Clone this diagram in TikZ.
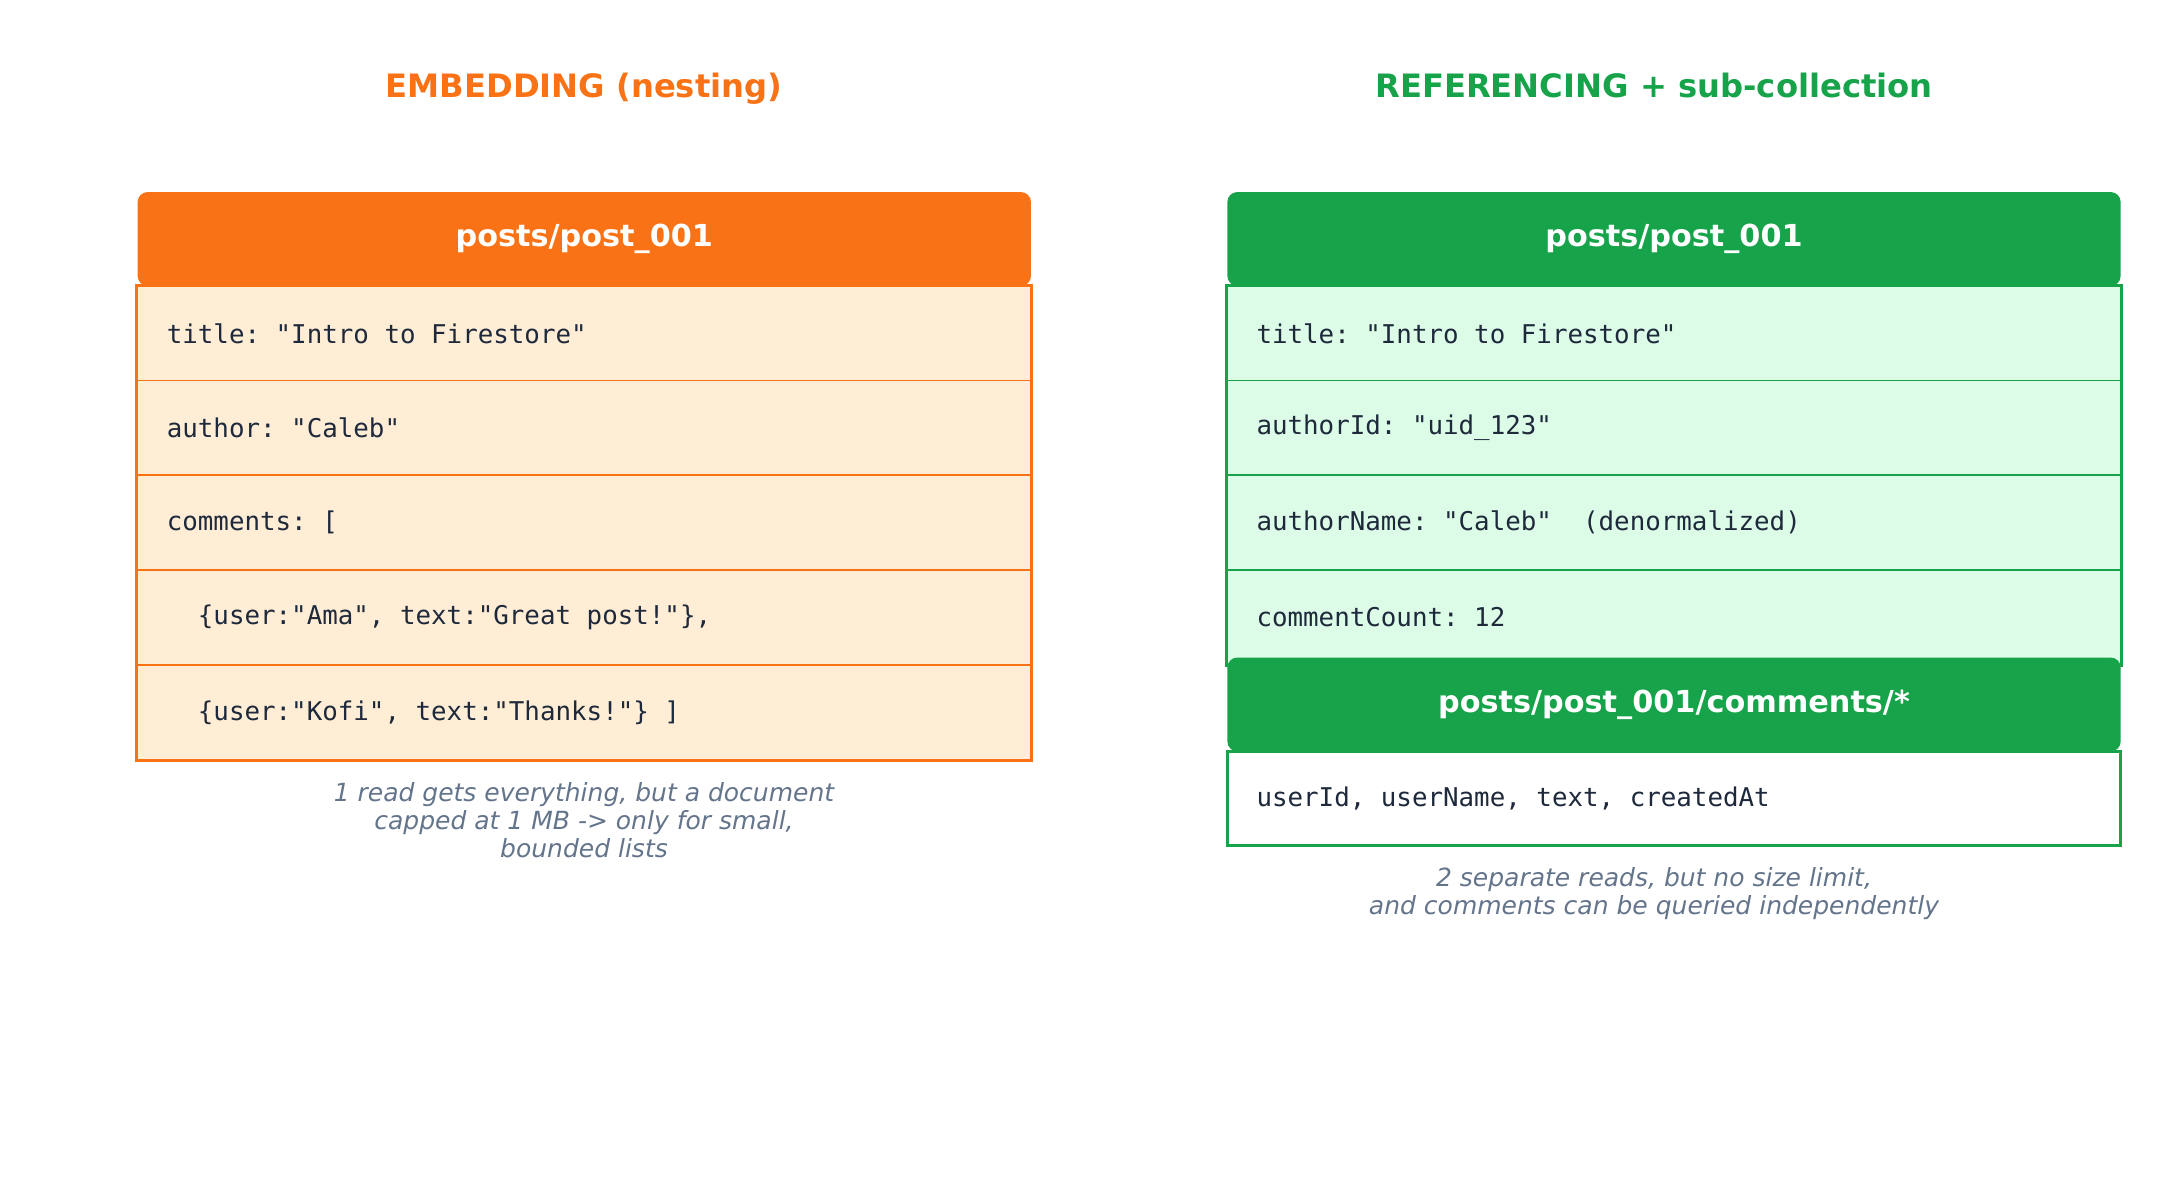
\documentclass[tikz,border=0pt]{standalone}
\usepackage{fontspec}
\setmainfont{DejaVu Sans}
\setmonofont{DejaVu Sans Mono}
\definecolor{embOrange}{HTML}{F97316}
\definecolor{embFill}{HTML}{FFEDD5}
\definecolor{refGreen}{HTML}{16A34A}
\definecolor{refFill}{HTML}{DCFCE7}
\definecolor{codeText}{HTML}{1E293B}
\definecolor{noteGrey}{HTML}{64748B}

\begin{document}
\begin{tikzpicture}[x=0.36pt, y=-0.36pt,
	cell/.style={rectangle, minimum height=34.1pt, text width=300.6pt, inner xsep=10.5pt, inner ysep=0pt,
		align=flush left, font=\fontsize{9.3}{11}\selectfont\ttfamily, text=codeText, line width=0.6pt},
	head/.style={rectangle, rounded corners=3.6pt, minimum width=321.6pt, minimum height=33.8pt,
		font=\fontsize{10.9}{13}\selectfont\bfseries, text=white},
	title/.style={anchor=base, font=\fontsize{11.6}{14}\selectfont\bfseries},
	note/.style={align=center, font=\fontsize{9}{10.1}\selectfont\itshape, text=noteGrey}]
	\useasboundingbox (0,0) rectangle (2179,1180);
	%%%	Titoli
	\node[title, text=embOrange] (ltitle) at (584,98) {EMBEDDING (nesting)};
	\node[title, text=refGreen] (rtitle) at (1654,98) {REFERENCING + sub-collection};
	
	% Embedding
	\node[cell, fill=embFill, draw=embOrange] (lrow1) at (584.3,333.5) {title: "Intro to Firestore"};
	\node[cell, fill=embFill, draw=embOrange] (lrow2) at (584.3,428) {author: "Caleb"};
	\node[cell, fill=embFill, draw=embOrange] (lrow3) at (584.3,522.5) {comments: [};
	\node[cell, fill=embFill, draw=embOrange] (lrow4) at (584.3,617.5) {\phantom{xx}\{user:"Ama", text:"Great post!"\},};
	\node[cell, fill=embFill, draw=embOrange] (lrow5) at (584.3,712.5) {\phantom{xx}\{user:"Kofi", text:"Thanks!"\} ]};
	\draw[embOrange, line width=1pt] (lrow1.north west) rectangle (lrow5.south east);
	\node[head, fill=embOrange] (lhead) at (584.3,239) {posts/post\_001};
	\node[note] (lnote) at (584,820) {1 read gets everything, but a document\\capped at 1 MB -> only for small,\\bounded lists};
	
	% Referencing
	\node[cell, fill=refFill, draw=refGreen] (rrow1) at (1674,333.5) {title: "Intro to Firestore"};
	\node[cell, fill=refFill, draw=refGreen] (rrow2) at (1674,428) {authorId: "uid\_123"};
	\node[cell, fill=refFill, draw=refGreen] (rrow3) at (1674,522.5) {authorName: "Caleb"\phantom{xx}(denormalized)};
	\node[cell, fill=refFill, draw=refGreen] (rrow4) at (1674,617.5) {commentCount: 12};
	\draw[refGreen, line width=1pt] (rrow1.north west) rectangle (rrow4.south east);
	\node[head, fill=refGreen] (rhead) at (1674,239) {posts/post\_001};
	
	% Sub-collection
	\node[head, fill=refGreen] (shead) at (1674,704.5) {posts/post\_001/comments/*};
	\node[cell, fill=white, draw=refGreen, line width=1pt] (srow1) at (1674,798.5) {userId, userName, text, createdAt};
	\node[note] (rnote) at (1654,894) {2 separate reads, but no size limit,\\and comments can be queried independently};
	
\end{tikzpicture}
\end{document}
